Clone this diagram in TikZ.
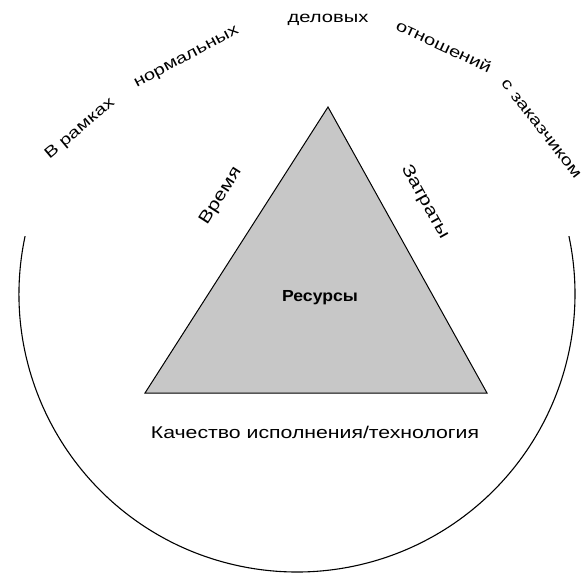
\documentclass[tikz,border=0pt]{standalone}
\usepackage{graphicx}
\usepackage{fontspec}
\setmainfont{Liberation Sans}
\newcommand{\widetext}[2]{\scalebox{#1}[1]{#2}}
\begin{document}
\begin{tikzpicture}[x=1pt,y=-1pt,
  arctxt/.style={font=\fontsize{15.5}{15.5}\selectfont, inner sep=0pt},
  edgetxt/.style={font=\fontsize{17}{17}\selectfont, inner sep=0pt},
  tri/.style={draw=black, line width=1pt, fill=black!22},
  ring/.style={draw=black, line width=1.1pt}]
\useasboundingbox (0,0) rectangle (584,574);
% triangle
\coordinate (A) at (328,107);
\coordinate (BL) at (145,393);
\coordinate (BR) at (487,393);
\draw[tri] (A) -- (BL) -- (BR) -- cycle;
% open circle (gap at the top for the text)
\coordinate (C) at (297,294);
\draw[ring] (C) ++(192:278) arc[start angle=192, end angle=-12, radius=278];
% texts on the circle
\node[arctxt, rotate=40] (t1) at (80,129) {\widetext{1.3}{В рамках}};
\node[arctxt, rotate=28] (t2) at (187,58) {\widetext{1.3}{нормальных}};
\node[arctxt] (t3) at (328,20) {\widetext{1.3}{деловых}};
\node[arctxt, rotate=-25] (t4) at (444,46) {\widetext{1.3}{отношений}};
\node[arctxt, rotate=-52] (t5) at (541,129) {\widetext{1.3}{с заказчиком}};
% edge labels
\node[edgetxt, rotate=57.4] (time) at (221,196) {\widetext{1.25}{Время}};
\node[edgetxt, rotate=-60.9] (cost) at (425,202) {\widetext{1.25}{Затраты}};
\node[font=\bfseries\fontsize{16}{16}\selectfont] (res) at (320,298) {\widetext{1.1}{Ресурсы}};
\node[edgetxt] (qual) at (315,432) {\widetext{1.25}{Качество исполнения/технология}};
\end{tikzpicture}
\end{document}
